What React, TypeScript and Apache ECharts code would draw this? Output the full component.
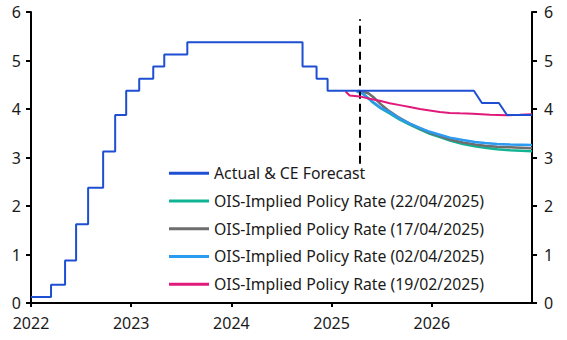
import React, { useEffect, useRef } from "react";
import * as echarts from "echarts";

// Fed funds target midpoint (actual) followed by CE forecast: [year, %]
const actualCE: [number, number][] = [
  [2022.0, 0.125], [2022.2, 0.125], [2022.2, 0.375], [2022.34, 0.375], [2022.34, 0.875],
  [2022.45, 0.875], [2022.45, 1.625], [2022.57, 1.625], [2022.57, 2.375], [2022.72, 2.375],
  [2022.72, 3.125], [2022.84, 3.125], [2022.84, 3.875], [2022.95, 3.875], [2022.95, 4.375],
  [2023.08, 4.375], [2023.08, 4.625], [2023.22, 4.625], [2023.22, 4.875], [2023.33, 4.875],
  [2023.33, 5.125], [2023.56, 5.125], [2023.56, 5.375], [2024.71, 5.375], [2024.71, 4.875],
  [2024.85, 4.875], [2024.85, 4.625], [2024.96, 4.625], [2024.96, 4.375], [2026.42, 4.375],
  [2026.5, 4.125], [2026.67, 4.125], [2026.75, 3.875], [2027.0, 3.875],
];

const ois220425: [number, number][] = [
  [2025.27, 4.36], [2025.31, 4.32], [2025.35, 4.25], [2025.41, 4.14], [2025.48, 4.03],
  [2025.58, 3.91], [2025.68, 3.78], [2025.78, 3.68], [2025.88, 3.58], [2025.98, 3.49],
  [2026.08, 3.42], [2026.18, 3.35], [2026.31, 3.28], [2026.43, 3.23], [2026.53, 3.2],
  [2026.65, 3.17], [2026.78, 3.15], [2027.0, 3.13],
];

const ois170425: [number, number][] = [
  [2025.26, 4.37], [2025.31, 4.36], [2025.37, 4.32], [2025.43, 4.22], [2025.49, 4.1],
  [2025.56, 3.98], [2025.66, 3.84], [2025.78, 3.7], [2025.88, 3.6], [2025.98, 3.51],
  [2026.08, 3.44], [2026.18, 3.37], [2026.31, 3.31], [2026.43, 3.27], [2026.53, 3.24],
  [2026.65, 3.22], [2026.78, 3.21], [2027.0, 3.19],
];

const ois020425: [number, number][] = [
  [2025.25, 4.36], [2025.3, 4.33], [2025.35, 4.25], [2025.41, 4.15], [2025.48, 4.04],
  [2025.58, 3.93], [2025.68, 3.8], [2025.78, 3.7], [2025.88, 3.61], [2025.98, 3.53],
  [2026.08, 3.47], [2026.18, 3.41], [2026.31, 3.36], [2026.43, 3.32], [2026.53, 3.3],
  [2026.65, 3.28], [2026.78, 3.27], [2027.0, 3.26],
];

const ois190225: [number, number][] = [
  [2025.14, 4.36], [2025.18, 4.28], [2025.28, 4.26], [2025.38, 4.21], [2025.48, 4.17],
  [2025.58, 4.12], [2025.68, 4.08], [2025.78, 4.04], [2025.88, 4.0], [2025.98, 3.97],
  [2026.08, 3.94], [2026.18, 3.92], [2026.28, 3.91], [2026.41, 3.9], [2026.58, 3.88],
  [2026.75, 3.87], [2026.88, 3.88], [2027.0, 3.89],
];

const seriesNames = [
  "Actual & CE Forecast",
  "OIS-Implied Policy Rate (22/04/2025)",
  "OIS-Implied Policy Rate (17/04/2025)",
  "OIS-Implied Policy Rate (02/04/2025)",
  "OIS-Implied Policy Rate (19/02/2025)",
];

const dividerYear = 2025.28;
const dividerRange = [2.87, 5.85];
const xMin = 2022;
const xMax = 2027;
const yMin = 0;
const yMax = 6;

const FONT = "Noto Sans";

export default function App() {
  const ref = useRef<HTMLDivElement>(null);
  useEffect(() => {
    if (!ref.current) return;
    const chart = echarts.init(ref.current, null, { renderer: "svg" });
    const axisLine = { show: true, lineStyle: { color: "#000", width: 2 } };
    const axisLabel = { color: "#1a1a1a", fontFamily: FONT, fontSize: 16 };
    const yAxisBase = {
      type: "value" as const,
      min: yMin,
      max: yMax,
      interval: 1,
      splitLine: { show: false },
      axisLine,
      axisTick: { show: true, length: 5, lineStyle: { color: "#000", width: 2 } },
    };
    const line = (name: string, data: [number, number][], color: string, width: number, z: number) => ({
      name,
      type: "line" as const,
      data,
      showSymbol: false,
      symbol: "none",
      lineStyle: { color, width },
      itemStyle: { color },
      z,
    });
    chart.setOption({
      animation: false,
      grid: { left: 31, right: 35, top: 12, bottom: 37 },
      legend: {
        orient: "vertical",
        left: 164,
        top: 159,
        icon: "rect",
        itemWidth: 40,
        itemHeight: 3,
        itemGap: 9,
        data: seriesNames,
        textStyle: { color: "#1a1a1a", fontFamily: FONT, fontSize: 15.8, lineHeight: 18.7 },
      },
      xAxis: {
        type: "value",
        min: xMin,
        max: xMax,
        interval: 1,
        splitLine: { show: false },
        axisLine,
        axisTick: { show: true, length: 4, lineStyle: { color: "#000", width: 2 } },
        axisLabel: { ...axisLabel, margin: 12, showMaxLabel: false, formatter: (v: number) => String(v) },
      },
      yAxis: [
        { ...yAxisBase, position: "left", axisLabel: { ...axisLabel, margin: 10 } },
        { ...yAxisBase, position: "right", axisLabel: { ...axisLabel, margin: 12 } },
      ],
      series: [
        {
          ...line(seriesNames[0], actualCE, "#1E4FD3", 2, 6),
          markLine: {
            silent: true,
            symbol: "none",
            label: { show: false },
            lineStyle: { color: "#000", width: 2, type: [8, 5] },
            data: [[{ coord: [dividerYear, dividerRange[0]] }, { coord: [dividerYear, dividerRange[1]] }]],
          },
        },
        line(seriesNames[1], ois220425, "#10B394", 2.5, 2),
        line(seriesNames[2], ois170425, "#6E6E6E", 2.5, 3),
        line(seriesNames[3], ois020425, "#2B9BF2", 2.5, 4),
        line(seriesNames[4], ois190225, "#E0197B", 2, 5),
      ],
    });
    return () => chart.dispose();
  }, []);
  return <div ref={ref} style={{ position: "fixed", left: 0, top: 0, width: 567, height: 340, background: "#fff" }} />;
}
